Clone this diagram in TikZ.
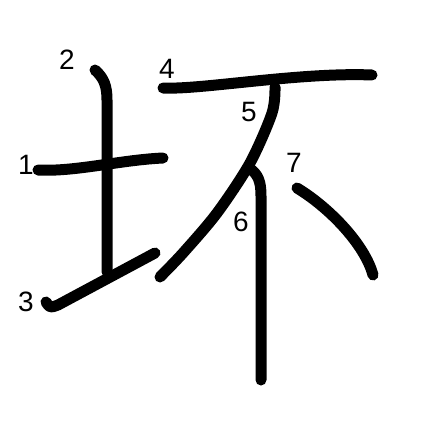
\documentclass[tikz,border=0pt]{standalone}
\usepackage{fontspec}
\setmainfont{Liberation Sans}
\usepackage{tikz}

\begin{document}
\begin{tikzpicture}[
  x=1pt, y=-1pt,
  stroke/.style={line width=11pt, line cap=round, line join=round},
  num/.style={inner sep=0pt, font=\fontsize{28}{28}\selectfont}]
\useasboundingbox (0,0) rectangle (447,447);
% strokes of the character
\draw[stroke] (38,170) .. controls (75,172) and (120,160) .. (163,158);
\draw[stroke] (95,70) .. controls (104,78) and (107,86) .. (107,100) -- (107,272);
\draw[stroke] (46,302) .. controls (50,308) .. (58,305) -- (155,253);
\draw[stroke] (163,88) .. controls (200,90) and (300,72) .. (372,75);
\draw[stroke] plot[smooth] coordinates {(275,87) (272,113) (250,163) (217,213) (183,253) (160,277)};
\draw[stroke] (249,168) .. controls (258,174) and (261,181) .. (261,196) -- (261,380);
\draw[stroke] (297,188) .. controls (330,208) and (365,245) .. (373,275);
% stroke numbers
\node[num] (n1) at (26,165) {1};
\node[num] (n2) at (67,60)  {2};
\node[num] (n3) at (26,302) {3};
\node[num] (n4) at (167,69) {4};
\node[num] (n5) at (249,112) {5};
\node[num] (n6) at (241,222) {6};
\node[num] (n7) at (294,163) {7};
\end{tikzpicture}
\end{document}
